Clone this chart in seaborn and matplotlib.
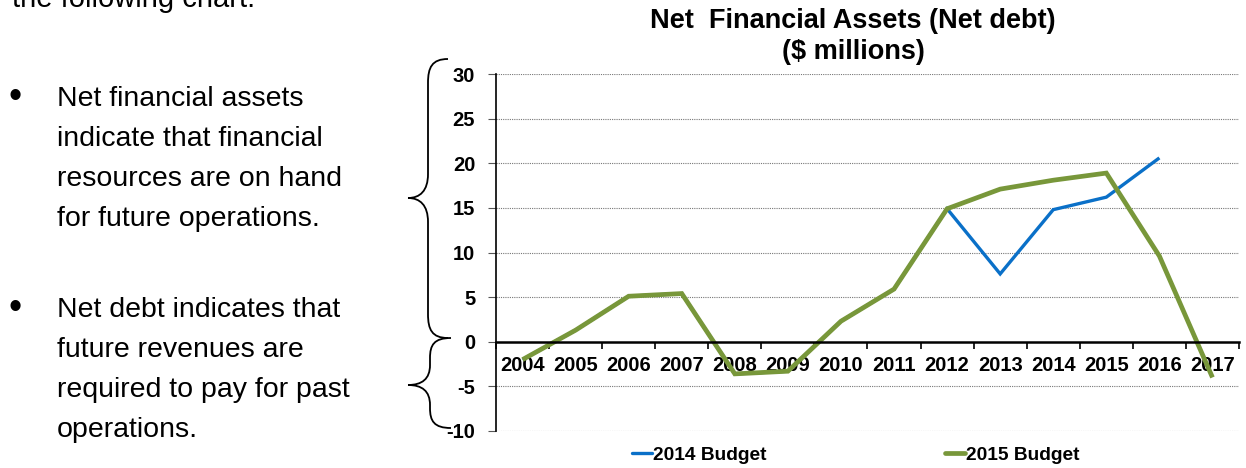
import numpy as np
import pandas as pd
import matplotlib
matplotlib.use("Agg")
import matplotlib.pyplot as plt
import seaborn as sns
from matplotlib.path import Path
from matplotlib.patches import PathPatch
from matplotlib.lines import Line2D

# ---------------- data ----------------
years = ["2004", "2005", "2006", "2007", "2008", "2009", "2010",
         "2011", "2012", "2013", "2014", "2015", "2016", "2017"]
budget_2014 = [-2.0, 1.3, 5.1, 5.4, -3.6, -3.3, 2.3, 5.9, 14.9,
               7.6, 14.8, 16.2, 20.6, np.nan]
budget_2015 = [-2.0, 1.3, 5.1, 5.4, -3.6, -3.3, 2.3, 5.9, 14.9,
               17.1, 18.1, 18.9, 9.6, -4.0]
series_names = ["2014 Budget", "2015 Budget"]
y_ticks = [-10, -5, 0, 5, 10, 15, 20, 25, 30]
title_lines = ["Net  Financial Assets (Net debt)", "($ millions)"]
bullet1 = ["Net financial assets", "indicate that financial",
           "resources are on hand", "for future operations."]
bullet2 = ["Net debt indicates that", "future revenues are",
           "required to pay for past", "operations."]
intro = "the following chart:"

df = pd.DataFrame({
    "year": years * 2,
    "value": budget_2014 + budget_2015,
    "series": [series_names[0]] * len(years) + [series_names[1]] * len(years),
}).dropna()

# ---------------- figure ----------------
sns.set_theme(style="white")
plt.rcParams["font.family"] = ["Liberation Sans", "DejaVu Sans"]
plt.rcParams["text.color"] = "black"
plt.rcParams["xtick.color"] = "black"
plt.rcParams["ytick.color"] = "black"
plt.rcParams["axes.labelcolor"] = "black"

W, H = 1246, 468
fig = plt.figure(figsize=(W / 100, H / 100), dpi=100)
left, right, top, bottom = 496, 1239, 74, 431
ax = fig.add_axes([left / W, 1 - bottom / H, (right - left) / W, (bottom - top) / H])

palette = {series_names[0]: "#0A70C8", series_names[1]: "#78973A"}
sizes = {series_names[0]: 2.4, series_names[1]: 3.4}
df["cat"] = df["year"].map({y: i for i, y in enumerate(years)})
sns.lineplot(data=df, x="cat", y="value", hue="series", size="series",
             sizes=sizes, palette=palette, ax=ax, legend=False,
             sort=False, estimator=None)
for ln in ax.lines:
    ln.set_solid_capstyle("butt")
    ln.set_solid_joinstyle("miter")

ax.set_xlim(-0.5, len(years) - 0.5)
ax.set_ylim(-10, 30)
ax.set_yticks(y_ticks)
ax.set_yticklabels([str(v) for v in y_ticks], fontsize=14.5, fontweight="bold")
ax.yaxis.grid(True, color="#777777", linestyle=(0, (1, 1)), linewidth=0.8)
ax.set_axisbelow(True)
ax.tick_params(axis="y", length=6, width=0.8, color="#555555", pad=9, left=True,
               labelcolor="black")

# x axis at zero, ticks at category boundaries, labels at centres
ax.spines["bottom"].set_position(("data", 0))
ax.spines["bottom"].set_color("black")
ax.spines["bottom"].set_linewidth(1.8)
ax.spines["left"].set_color("black")
ax.spines["left"].set_linewidth(1.2)
ax.spines["top"].set_visible(False)
ax.spines["right"].set_visible(False)
ax.set_xticks(np.arange(-0.5, len(years), 1.0))
ax.set_xticklabels([])
ax.set_xticks(np.arange(len(years)), minor=True)
ax.set_xticklabels(years, minor=True, fontsize=14.5, fontweight="bold")
ax.tick_params(axis="x", which="major", length=5, width=1.2, color="black", bottom=True, direction="out")
ax.tick_params(axis="x", which="minor", length=0, pad=10, bottom=True, labelcolor="black")
ax.set_xlabel("")
ax.set_ylabel("")

for gl, v in zip(ax.yaxis.get_gridlines(), y_ticks):
    if v == 0:
        gl.set_visible(False)

# title (two centred lines)
fig.text(853 / W, 1 - 21 / H, title_lines[0], fontsize=19.5, fontweight="bold",
         ha="center", va="center")
fig.text(853 / W, 1 - 52 / H, title_lines[1], fontsize=19.5, fontweight="bold",
         ha="center", va="center")

# legend
handles = [Line2D([0], [0], color=palette[s], lw=sizes[s]) for s in series_names]
leg = fig.legend(handles, series_names, loc="center", ncol=2,
                 bbox_to_anchor=(856 / W, 1 - 455 / H), frameon=False,
                 prop={"weight": "bold", "size": 13.8}, handlelength=1.05,
                 handletextpad=0.05, columnspacing=9.3)

# ---------------- left-hand text ----------------
def px(x, y):
    return x / W, 1 - y / H

fig.text(*px(12, 7), intro, fontsize=21, va="baseline", ha="left")
for i, line in enumerate(bullet1):
    fig.text(*px(57, 106 + 40 * i), line, fontsize=20.5, va="baseline", ha="left")
for i, line in enumerate(bullet2):
    fig.text(*px(57, 317 + 40 * i), line, fontsize=20.5, va="baseline", ha="left")
fig.text(*px(15, 98), "\u2022", fontsize=27, va="center", ha="center")
fig.text(*px(15, 309), "\u2022", fontsize=27, va="center", ha="center")

# ---------------- braces ----------------
def brace(x_end, x_mid, x_tip, y_top, y_tip, y_bot, r=22):
    def p(x, y):
        return (x / 100, (H - y) / 100)
    verts = [
        p(x_end, y_top),
        p(x_mid + 4, y_top), p(x_mid, y_top + r * 0.35), p(x_mid, y_top + r),
        p(x_mid, y_tip - r),
        p(x_mid, y_tip - r * 0.3), p(x_mid - 8, y_tip), p(x_tip, y_tip),
        p(x_mid - 8, y_tip), p(x_mid, y_tip + r * 0.3), p(x_mid, y_tip + r),
        p(x_mid, y_bot - r),
        p(x_mid, y_bot - r * 0.35), p(x_mid + 4, y_bot), p(x_end, y_bot),
    ]
    codes = [Path.MOVETO,
             Path.CURVE4, Path.CURVE4, Path.CURVE4,
             Path.LINETO,
             Path.CURVE4, Path.CURVE4, Path.CURVE4,
             Path.CURVE4, Path.CURVE4, Path.CURVE4,
             Path.LINETO,
             Path.CURVE4, Path.CURVE4, Path.CURVE4]
    patch = PathPatch(Path(verts, codes), facecolor="none", edgecolor="black",
                      lw=1.3, transform=fig.dpi_scale_trans)
    fig.add_artist(patch)

brace(448, 428, 408, 59, 198, 338, r=24)
brace(451, 430, 408, 338, 385, 428, r=20)

fig.savefig("out.png", dpi=100)
